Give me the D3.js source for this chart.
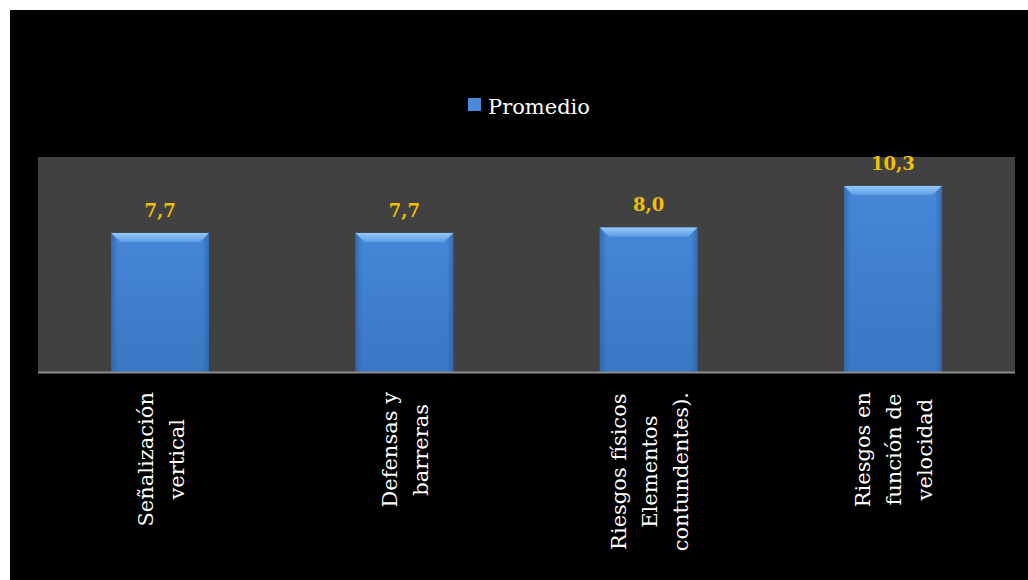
<!DOCTYPE html>
<html><head><meta charset="utf-8">
<script src="https://cdn.jsdelivr.net/npm/d3@7"></script>
<style>html,body{margin:0;padding:0;background:#fff;overflow:hidden}</style>
</head><body>
<svg id="c" width="1028" height="580"></svg>
<script>
const categories = [
  ["Señalización", "vertical"],
  ["Defensas y", "barreras"],
  ["Riesgos físicos", "Elementos", "contundentes)."],
  ["Riesgos en", "función de", "velocidad"]
];
const values = [7.7, 7.7, 8.0, 10.3];
const valueLabels = ["7,7", "7,7", "8,0", "10,3"];
const seriesName = "Promedio";

const svg = d3.select("#c");
const defs = svg.append("defs");

const W = 1028, H = 580;
const plot = {x0: 38, x1: 1015, y0: 157, y1: 372};

svg.append("rect").attr("x", 10).attr("y", 10).attr("width", W - 10).attr("height", H - 10).attr("fill", "#000");

svg.append("rect").attr("x", plot.x0).attr("y", plot.y0)
  .attr("width", plot.x1 - plot.x0).attr("height", plot.y1 - plot.y0).attr("fill", "#414141");

const idx = categories.map((d, i) => i);
const x = d3.scaleBand().domain(idx).range([plot.x0, plot.x1]).paddingInner(0.6).paddingOuter(0.3);
const y = d3.scaleLinear().domain([0, 11.9]).range([plot.y1, plot.y0]);

// gradients
const body = defs.append("linearGradient").attr("id", "body").attr("x1", 0).attr("x2", 0).attr("y1", 0).attr("y2", 1);
body.append("stop").attr("offset", 0).attr("stop-color", "#4687d8");
body.append("stop").attr("offset", 1).attr("stop-color", "#3a77c4");
const side = defs.append("linearGradient").attr("id", "side").attr("x1", 0).attr("x2", 1);
side.append("stop").attr("offset", 0).attr("stop-color", "#2a5c9e").attr("stop-opacity", 0.6);
side.append("stop").attr("offset", 0.07).attr("stop-color", "#2a5c9e").attr("stop-opacity", 0);
side.append("stop").attr("offset", 0.93).attr("stop-color", "#2a5c9e").attr("stop-opacity", 0);
side.append("stop").attr("offset", 1).attr("stop-color", "#2a5c9e").attr("stop-opacity", 0.6);
const bevel = defs.append("linearGradient").attr("id", "bevel").attr("x1", 0).attr("x2", 0).attr("y1", 0).attr("y2", 1);
bevel.append("stop").attr("offset", 0).attr("stop-color", "#95caf8");
bevel.append("stop").attr("offset", 1).attr("stop-color", "#5e9de4");

const bw = x.bandwidth();
const g = svg.append("g");
const bars = g.selectAll("g.bar").data(values).join("g").attr("class", "bar");
bars.append("rect")
  .attr("x", (d, i) => x(i)).attr("y", d => y(d))
  .attr("width", bw).attr("height", d => y(0) - y(d)).attr("fill", "url(#body)");
bars.append("rect")
  .attr("x", (d, i) => x(i)).attr("y", d => y(d))
  .attr("width", bw).attr("height", d => y(0) - y(d)).attr("fill", "url(#side)");
const bv = 9;
bars.append("path").attr("fill", "url(#bevel)")
  .attr("d", (d, i) => {
    const l = x(i), r = x(i) + bw, t = y(d);
    return `M${l},${t}L${r},${t}L${r - bv},${t + bv}L${l + bv},${t + bv}Z`;
  });

// axis line
svg.append("line").attr("x1", plot.x0).attr("x2", plot.x1).attr("y1", plot.y1 + 0.5).attr("y2", plot.y1 + 0.5)
  .attr("stroke", "#8c8c8c").attr("stroke-width", 2);

// value labels
svg.selectAll("text.val").data(values).join("text").attr("class", "val")
  .attr("x", (d, i) => x(i) + bw / 2).attr("y", d => y(d) - 16)
  .attr("text-anchor", "middle")
  .attr("font-family", "DejaVu Serif").attr("font-weight", "bold").attr("font-size", 18)
  .attr("fill", "#f2c000")
  .text((d, i) => valueLabels[i]);

// category labels (rotated)
const lineGap = 31;
const labTop = 392;
categories.forEach((lines, i) => {
  const cx = x(i) + bw / 2;
  const grp = svg.append("g");
  const texts = grp.selectAll("text").data(lines).join("text")
    .attr("font-family", "DejaVu Serif").attr("font-size", 21).attr("fill", "#fff")
    .attr("text-anchor", "middle")
    .text(d => d);
  let maxLen = 0;
  texts.each(function () { maxLen = Math.max(maxLen, this.getComputedTextLength()); });
  const n = lines.length;
  texts.attr("transform", (d, j) => {
    const lx = cx + (j - (n - 1) / 2) * lineGap + 8;
    const ly = labTop + maxLen / 2;
    return `translate(${lx},${ly}) rotate(-90)`;
  });
});

// legend
const leg = svg.append("g");
leg.append("rect").attr("x", 468).attr("y", 98).attr("width", 13).attr("height", 13).attr("fill", "#4a8ad8");
leg.append("text").attr("x", 488).attr("y", 114)
  .attr("font-family", "DejaVu Serif").attr("font-size", 21).attr("fill", "#fff")
  .text(seriesName);
</script>
</body></html>
